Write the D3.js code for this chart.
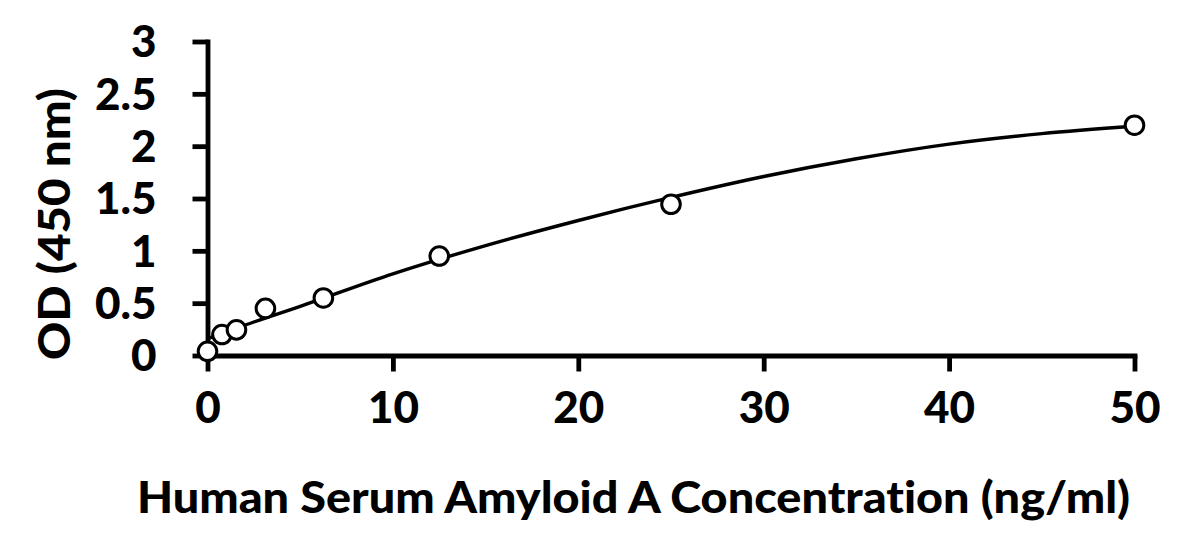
<!DOCTYPE html>
<html>
<head>
<meta charset="utf-8">
<script src="https://cdn.jsdelivr.net/npm/d3@7"></script>
<style>
  html, body { margin: 0; padding: 0; background: #fff; }
  svg { display: block; }
  text { font-variant-ligatures: none; font-feature-settings: "liga" 0; }
</style>
</head>
<body>
<script>
// standard points
const concentrations = [0, 0.78, 1.5625, 3.125, 6.25, 12.5, 25, 50];
const odValues = [0.04, 0.2, 0.245, 0.45, 0.55, 0.95, 1.445, 2.2];

// fitted curve
const curveX = [0, 2.5, 5, 10, 15, 20, 25, 30, 35, 40, 45, 50];
const curveY = [0.16, 0.32, 0.47, 0.78, 1.05, 1.29, 1.51, 1.71, 1.88, 2.02, 2.12, 2.19];

const xTicks = [0, 10, 20, 30, 40, 50];
const yTicks = [0, 0.5, 1, 1.5, 2, 2.5, 3];

const xTitle = "Human Serum Amyloid A Concentration (ng/ml)";
const yTitle = "OD (450 nm)";

const width = 1183;
const height = 558;
const font = "Lato, 'Open Sans', sans-serif";

const x = d3.scaleLinear().domain([0, 50]).range([207.5, 1134.5]);
const y = d3.scaleLinear().domain([0, 3]).range([355.5, 41.5]);

const svg = d3.select("body")
  .append("svg")
  .attr("width", width)
  .attr("height", height)
  .attr("viewBox", `0 0 ${width} ${height}`)
  .style("background", "#fff")
  .style("font-family", font)
  .style("font-weight", "900");

// axes
const xAxis = svg.append("g")
  .attr("transform", `translate(0,${y(0)})`)
  .call(d3.axisBottom(x).tickValues(xTicks).tickSize(16).tickPadding(20).tickSizeOuter(0));

const yAxis = svg.append("g")
  .attr("transform", `translate(${x(0)},0)`)
  .call(d3.axisLeft(y).tickValues(yTicks).tickSize(15).tickPadding(36).tickSizeOuter(0)
    .tickFormat(d3.format("")));

[xAxis, yAxis].forEach((ax) => {
  ax.select(".domain").attr("stroke", "#000").attr("stroke-width", 4.8);
  ax.selectAll(".tick line").attr("stroke", "#000").attr("stroke-width", 4.8);
  ax.selectAll(".tick text")
    .attr("fill", "#000")
    .style("font-family", font)
    .style("font-weight", "900")
    .style("font-size", "44px");
});
xAxis.select(".domain").attr("stroke-linecap", "square");
yAxis.select(".domain").attr("stroke-linecap", "square");

xAxis.selectAll(".tick text").attr("dy", "0.71em");
yAxis.selectAll(".tick text").attr("dy", "0.35em");

// curve
const line = d3.line()
  .x((d, i) => x(curveX[i]))
  .y((d) => y(d))
  .curve(d3.curveMonotoneX);

svg.append("path")
  .datum(curveY)
  .attr("fill", "none")
  .attr("stroke", "#000")
  .attr("stroke-width", 3.4)
  .attr("d", line);

// points
svg.append("g")
  .selectAll("circle")
  .data(concentrations)
  .join("circle")
  .attr("cx", (d) => x(d))
  .attr("cy", (d, i) => y(odValues[i]))
  .attr("r", 9.3)
  .attr("fill", "#fff")
  .attr("stroke", "#000")
  .attr("stroke-width", 3);

// titles
svg.append("text")
  .attr("x", 633.5)
  .attr("y", 512.5)
  .attr("text-anchor", "middle")
  .style("font-size", "44px")
  .attr("textLength", 993)
  .attr("lengthAdjust", "spacingAndGlyphs")
  .text(xTitle);

svg.append("text")
  .attr("transform", `translate(70,224) rotate(-90)`)
  .attr("text-anchor", "middle")
  .style("font-size", "44px")
  .attr("textLength", 272)
  .attr("lengthAdjust", "spacingAndGlyphs")
  .text(yTitle);
</script>
</body>
</html>
